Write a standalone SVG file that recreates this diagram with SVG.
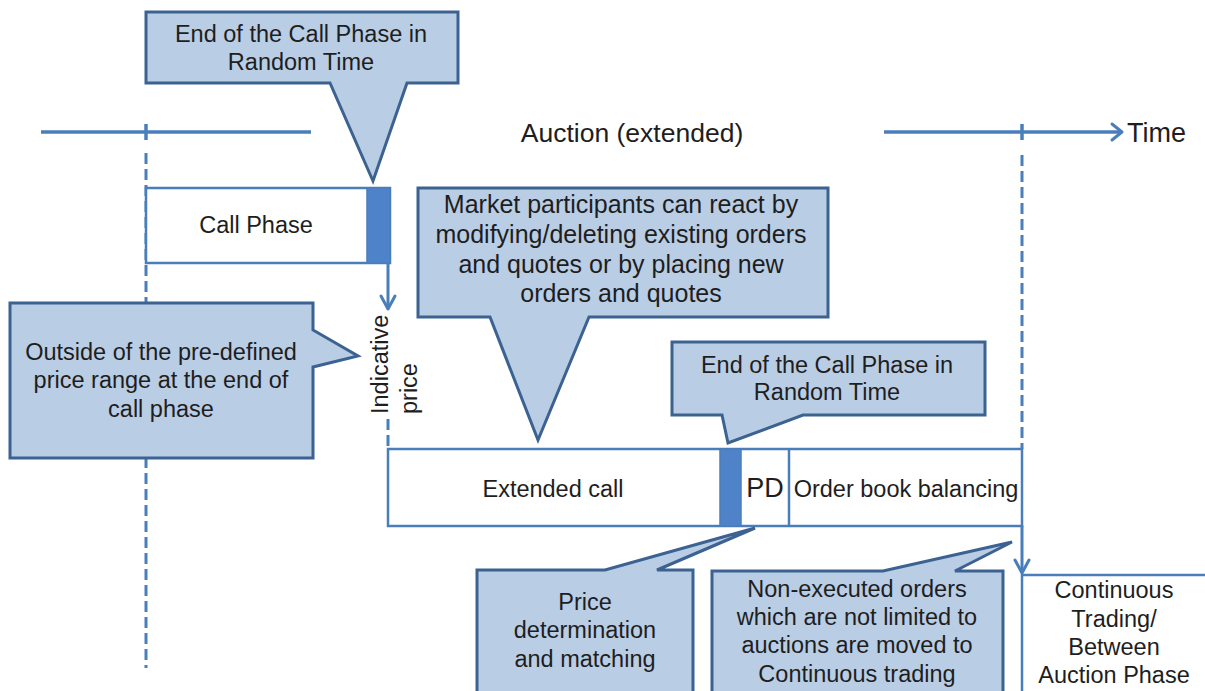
<svg xmlns="http://www.w3.org/2000/svg" width="1205" height="691" viewBox="0 0 1205 691">
<defs>
<style>
.t{font-family:"Liberation Sans",Arial,sans-serif;font-size:23.5px;fill:#1e1e1e;text-anchor:middle}
.co{fill:#b9cde5;stroke:#3c6292;stroke-width:3;stroke-linejoin:miter}
.box{fill:#fff;stroke:#4a7ebb;stroke-width:2.5}
.bar{fill:#4f83c9;stroke:#4a7ebb;stroke-width:1.5}
.ln{fill:none;stroke:#4a7ebb;stroke-width:3.5}
.ds{fill:none;stroke:#4a7ebb;stroke-width:3;stroke-dasharray:11 5}
.ar{fill:none;stroke:#4a7ebb;stroke-width:3;stroke-linecap:round;stroke-linejoin:round}
</style>
</defs>
<rect width="1205" height="691" fill="#fff"/>
<g id="connectors">
<line class="ln" x1="41" y1="132" x2="311" y2="132"/>
<line class="ln" x1="884" y1="132" x2="1120" y2="132"/>
<path class="ar" d="M1112,124 L1122,132 L1112,140"/>
<line class="ln" x1="146" y1="124" x2="146" y2="140"/>
<line class="ln" x1="1022" y1="124" x2="1022" y2="140"/>
<line class="ds" x1="146" y1="153" x2="146" y2="668"/>
<line class="ds" x1="1022" y1="155" x2="1022" y2="449"/>
<line class="ds" x1="388" y1="419" x2="388" y2="449"/>
<line class="ar" x1="388" y1="263" x2="388" y2="308"/>
<path class="ar" d="M381,296 L388,309 L395,296"/>
<line class="ar" x1="1022" y1="526" x2="1022" y2="572"/>
<path class="ar" d="M1015,560 L1022,573 L1029,560"/>
</g>
<g id="callPhase">
<rect class="box" x="146" y="188" width="244" height="75"/>
<rect class="bar" x="367" y="188" width="23" height="75"/>
<text class="t" x="256" y="233">Call Phase</text>
</g>
<g id="callout1">
<path class="co" d="M146,12 H458 V83 H407 L373,181 L330,83 H146 Z"/>
<text class="t" x="301" y="42">End of the Call Phase in</text>
<text class="t" x="301" y="70">Random Time</text>
</g>
<g id="auctionLabel">
<text class="t" x="632" y="142" style="font-size:26.5px">Auction (extended)</text>
</g>
<g id="timeLabel">
<text class="t" x="1127" y="142" style="font-size:27px;text-anchor:start">Time</text>
</g>
<g id="callout2">
<path class="co" d="M10,303 H313 V330 L358,356 L313,367 V458 H10 Z"/>
<text class="t" x="161" y="360">Outside of the pre-defined</text>
<text class="t" x="161" y="388">price range at the end of</text>
<text class="t" x="161" y="417">call phase</text>
</g>
<g id="indicative">
<text class="t" transform="translate(388,414) rotate(-90)" style="text-anchor:start">Indicative</text>
<text class="t" transform="translate(417,414) rotate(-90)" style="text-anchor:start">price</text>
</g>
<g id="callout3">
<path class="co" d="M418,188 H828 V317 H589 L538,440 L490,317 H418 Z"/>
<text class="t" x="621" y="213" style="font-size:25px">Market participants can react by</text>
<text class="t" x="621" y="243" style="font-size:25px">modifying/deleting existing orders</text>
<text class="t" x="621" y="273" style="font-size:25px">and quotes or by placing new</text>
<text class="t" x="621" y="302" style="font-size:25px">orders and quotes</text>
</g>
<g id="callout4">
<path class="co" d="M672,342 H985 V415 H803 L728,443 L722,415 H672 Z"/>
<text class="t" x="827" y="373">End of the Call Phase in</text>
<text class="t" x="827" y="400">Random Time</text>
</g>
<g id="extendedRow">
<rect class="box" x="388" y="449" width="634" height="77"/>
<rect class="bar" x="720" y="449" width="21" height="77"/>
<line x1="789" y1="449" x2="789" y2="526" stroke="#4a7ebb" stroke-width="2.5"/>
<text class="t" x="553" y="497">Extended call</text>
<text class="t" x="765" y="497" style="font-size:27px">PD</text>
<text class="t" x="906" y="497">Order book balancing</text>
</g>
<g id="callout5">
<path class="co" d="M477,570 H605 L755,528 L657,570 H693 V696 H477 Z"/>
<text class="t" x="585" y="610">Price</text>
<text class="t" x="585" y="638">determination</text>
<text class="t" x="585" y="667">and matching</text>
</g>
<g id="callout6">
<path class="co" d="M712,571 H883 L1012,542 L955,571 H1003 V696 H712 Z"/>
<text class="t" x="857" y="597">Non-executed orders</text>
<text class="t" x="857" y="625">which are not limited to</text>
<text class="t" x="857" y="653">auctions are moved to</text>
<text class="t" x="857" y="682">Continuous trading</text>
</g>
<g id="continuous">
<path d="M1207,575 H1022 V696" fill="#fff" stroke="#4a7ebb" stroke-width="2.5"/>
<text class="t" x="1114" y="598">Continuous</text>
<text class="t" x="1114" y="627">Trading/</text>
<text class="t" x="1114" y="655">Between</text>
<text class="t" x="1114" y="683">Auction Phase</text>
</g>
</svg>
